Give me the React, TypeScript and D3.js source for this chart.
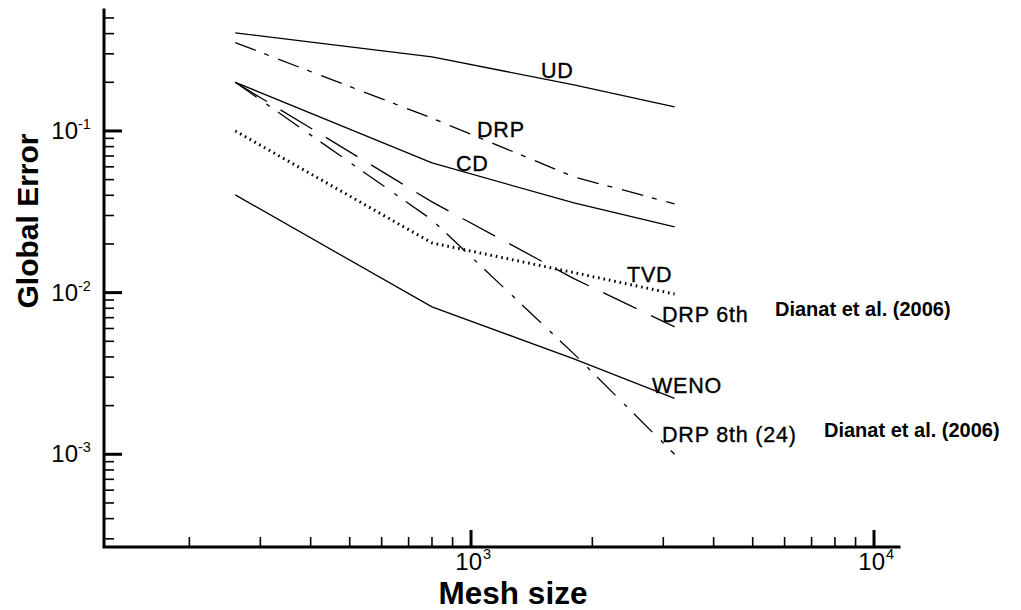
import React from 'react';
import * as d3 from 'd3';

// Mesh sizes at which each scheme's global error was evaluated
const meshSizes = [260, 800, 1800, 3200];

// Global error per scheme
const udError = [0.404, 0.287, 0.193, 0.141];
const drpError = [0.352, 0.12, 0.052, 0.0354];
const cdError = [0.2, 0.0634, 0.0359, 0.0255];
const tvdError = [0.1, 0.0203, 0.0133, 0.0098];
const drp6Error = [0.2, 0.0364, 0.0122, 0.00614];
const drp8Error = [0.2, 0.0282, 0.00418, 0.001];
const wenoError = [0.0402, 0.00816, 0.00389, 0.00222];

// Axis decades that get a labelled major tick
const xMajorExponents = [3, 4];
const yMajorExponents = [-1, -2, -3];

const W = 1021;
const H = 610;
const left = 104;
const right = 899;
const top = 10;
const bottom = 547;

type Series = {
  name: string;
  values: number[];
  dash?: string;
  width: number;
  labelX: number;
  labelY: number;
};

const series: Series[] = [
  { name: 'UD', values: udError, width: 1.3, labelX: 541, labelY: 78 },
  { name: 'DRP', values: drpError, dash: '22,9,5,10', width: 1.3, labelX: 477, labelY: 137 },
  { name: 'CD', values: cdError, width: 1.3, labelX: 456, labelY: 171 },
  { name: 'TVD', values: tvdError, dash: '1.6,3.9', width: 3, labelX: 627, labelY: 282 },
  { name: 'DRP 6th', values: drp6Error, dash: '37,16', width: 1.3, labelX: 662, labelY: 322 },
  { name: 'WENO', values: wenoError, width: 1.3, labelX: 652, labelY: 393 },
  { name: 'DRP 8th (24)', values: drp8Error, dash: '26,12,4,10', width: 1.3, labelX: 662, labelY: 442 },
];

const citations = [
  { text: 'Dianat et al. (2006)', x: 775, y: 316 },
  { text: 'Dianat et al. (2006)', x: 824, y: 437 },
];

const x = d3.scaleLog().domain([122.8, 11535]).range([left, right]);
const y = d3.scaleLog().domain([2.67e-4, 0.56]).range([bottom, top]);

const xMinor: number[] = [];
for (let e = 2; e <= 3; e++) {
  for (let k = 1; k <= 9; k++) {
    const v = k * Math.pow(10, e);
    if (k !== 1 && v >= x.domain()[0] && v <= 10000) xMinor.push(v);
  }
}
const yMinor: number[] = [];
for (let e = -4; e <= -1; e++) {
  for (let k = 2; k <= 9; k++) {
    const v = k * Math.pow(10, e);
    if (v >= y.domain()[0] && v <= y.domain()[1]) yMinor.push(v);
  }
}

const font = 'Liberation Sans, Arial, Helvetica, sans-serif';

export default function App() {
  const line = d3
    .line<[number, number]>()
    .x((d) => x(d[0]))
    .y((d) => y(d[1]));

  return (
    <svg
      width={W}
      height={H}
      style={{ position: 'absolute', left: 0, top: 0, background: '#fff' }}
      fontFamily={font}
    >
      <rect width={W} height={H} fill="#fff" />

      {/* data curves */}
      {series.map((s) => (
        <path
          key={s.name}
          d={line(meshSizes.map((m, i) => [m, s.values[i]] as [number, number])) || ''}
          fill="none"
          stroke="#000"
          strokeWidth={s.width}
          strokeDasharray={s.dash}
        />
      ))}

      {/* curve labels */}
      {series.map((s) => (
        <text
          key={'l' + s.name}
          x={s.labelX}
          y={s.labelY}
          fontSize={21.5}
          letterSpacing={0.8}
          fill="#000"
          stroke="#000"
          strokeWidth={0.35}
        >
          {s.name}
        </text>
      ))}
      {citations.map((c, i) => (
        <text key={'c' + i} x={c.x} y={c.y} fontSize={20} fontWeight="bold" fill="#000">
          {c.text}
        </text>
      ))}

      {/* y ticks */}
      {yMinor.map((v) => (
        <line key={'ym' + v} x1={left} x2={left + 10} y1={y(v)} y2={y(v)} stroke="#000" strokeWidth={1.6} />
      ))}
      {yMajorExponents.map((e) => {
        const py = y(Math.pow(10, e));
        return (
          <g key={'yM' + e}>
            <line x1={left} x2={left + 18} y1={py} y2={py} stroke="#000" strokeWidth={3} />
            <text x={78} y={py + 8} fontSize={24} textAnchor="end" fill="#000">
              10
            </text>
            <text x={78} y={py - 2} fontSize={14.5} fill="#000">
              {String(e)}
            </text>
          </g>
        );
      })}

      {/* x ticks */}
      {xMinor.map((v) => (
        <line key={'xm' + v} x1={x(v)} x2={x(v)} y1={bottom} y2={bottom - 10} stroke="#000" strokeWidth={1.6} />
      ))}
      {xMajorExponents.map((e) => {
        const px = x(Math.pow(10, e));
        return (
          <g key={'xM' + e}>
            <line x1={px} x2={px} y1={bottom} y2={bottom - 17} stroke="#000" strokeWidth={3} />
            <text x={px + 11} y={570} fontSize={24} textAnchor="end" fill="#000">
              10
            </text>
            <text x={px + 12} y={559} fontSize={14.5} fill="#000">
              {String(e)}
            </text>
          </g>
        );
      })}

      {/* axis frame */}
      <path
        d={`M${left},${top} V${bottom} H${right}`}
        fill="none"
        stroke="#000"
        strokeWidth={3}
        strokeLinecap="square"
      />

      {/* axis titles */}
      <text x={513} y={604} fontSize={31.5} fontWeight="bold" textAnchor="middle" fill="#000">
        Mesh size
      </text>
      <text
        transform="translate(38,221) rotate(-90)"
        fontSize={30}
        fontWeight="bold"
        textAnchor="middle"
        fill="#000"
      >
        Global Error
      </text>
    </svg>
  );
}
